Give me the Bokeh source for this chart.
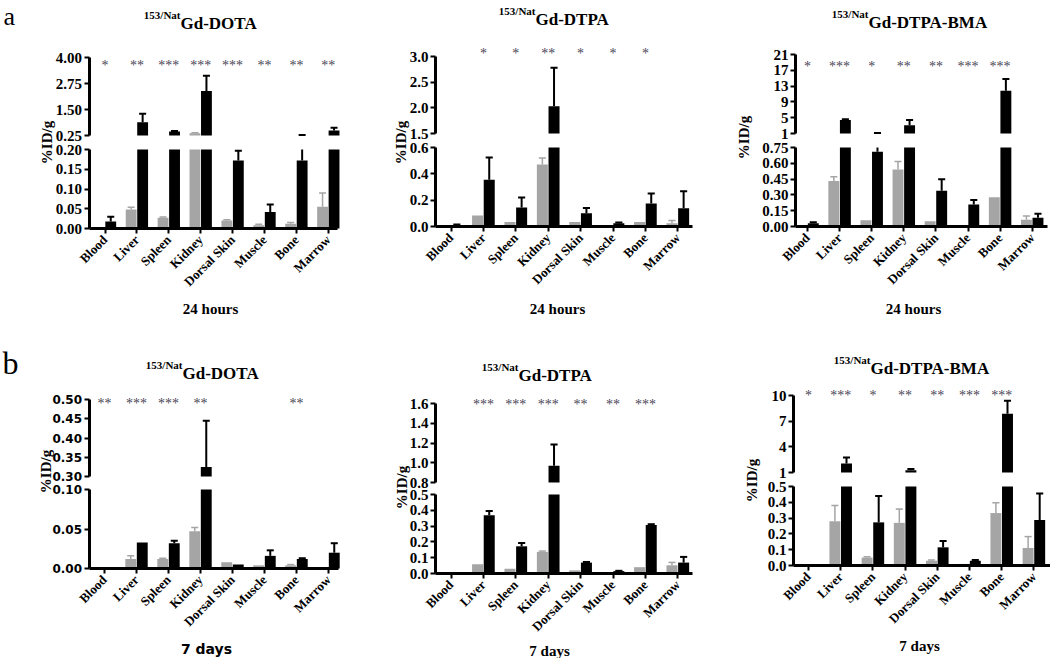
import numpy as np
from math import pi
from bokeh.plotting import figure
from bokeh.models import Range1d, LinearAxis, FixedTicker, NumeralTickFormatter
from bokeh.layouts import row, column
from bokeh.core.properties import value
from bokeh.embed import file_html
from bokeh.resources import INLINE

CATS = ["Blood", "Liver", "Spleen", "Kidney", "Dorsal Skin", "Muscle", "Bone", "Marrow"]

# ---------------- a: 24 hours ----------------
# 153/NatGd-DOTA, 24 h
dota24_gray = [0.003, 0.048, 0.027, 0.36, 0.020, 0.008, 0.012, 0.055]
dota24_gray_err = [0.0, 0.006, 0.002, 0.02, 0.002, 0.003, 0.003, 0.035]
dota24_black = [0.018, 0.89, 0.44, 2.39, 0.172, 0.042, 0.172, 0.49]
dota24_black_err = [0.012, 0.41, 0.03, 0.73, 0.025, 0.019, 0.10, 0.13]
dota24_stars = ["*", "**", "***", "***", "***", "**", "**", "**"]
dota24_lo_ticks = [0.00, 0.05, 0.10, 0.15, 0.20]
dota24_up_ticks = [0.25, 1.50, 2.75, 4.00]

# 153/NatGd-DTPA, 24 h
dtpa24_gray = [0.0, 0.083, 0.035, 0.47, 0.035, 0.010, 0.035, 0.025]
dtpa24_gray_err = [0.0, 0.0, 0.0, 0.05, 0.0, 0.0, 0.0, 0.02]
dtpa24_black = [0.012, 0.355, 0.145, 2.03, 0.10, 0.025, 0.175, 0.138]
dtpa24_black_err = [0.003, 0.17, 0.075, 0.75, 0.04, 0.005, 0.075, 0.13]
dtpa24_stars = ["", "*", "*", "**", "*", "*", "*", ""]
dtpa24_lo_ticks = [0.0, 0.2, 0.4, 0.6]
dtpa24_up_ticks = [1.5, 2.0, 2.5, 3.0]

# 153/NatGd-DTPA-BMA, 24 h
bma24_gray = [0.0, 0.432, 0.06, 0.54, 0.05, 0.01, 0.278, 0.065]
bma24_gray_err = [0.0, 0.04, 0.0, 0.078, 0.0, 0.0, 0.0, 0.035]
bma24_black = [0.03, 4.4, 0.71, 3.1, 0.34, 0.208, 11.8, 0.082]
bma24_black_err = [0.01, 0.2, 0.4, 1.3, 0.108, 0.044, 3.0, 0.038]
bma24_stars = ["*", "***", "*", "**", "**", "***", "***", ""]
bma24_lo_ticks = [0.00, 0.15, 0.30, 0.45, 0.60, 0.75]
bma24_up_ticks = [1, 5, 9, 13, 17, 21]

# ---------------- b: 7 days ----------------
dota7_gray = [0.0, 0.012, 0.012, 0.047, 0.008, 0.004, 0.004, 0.0]
dota7_gray_err = [0.0, 0.004, 0.001, 0.005, 0.0, 0.0, 0.001, 0.0]
dota7_black = [0.0, 0.033, 0.032, 0.325, 0.005, 0.016, 0.012, 0.020]
dota7_black_err = [0.0, 0.0, 0.003, 0.12, 0.0, 0.007, 0.001, 0.012]
dota7_stars = ["**", "***", "***", "**", "", "", "**", ""]
dota7_lo_ticks = [0.00, 0.05, 0.10]
dota7_up_ticks = [0.30, 0.35, 0.40, 0.45, 0.50]

dtpa7_gray = [0.0, 0.059, 0.03, 0.137, 0.02, 0.0, 0.04, 0.052]
dtpa7_gray_err = [0.0, 0.0, 0.0, 0.005, 0.0, 0.0, 0.0, 0.018]
dtpa7_black = [0.0, 0.368, 0.172, 0.97, 0.069, 0.015, 0.307, 0.069]
dtpa7_black_err = [0.0, 0.027, 0.021, 0.215, 0.004, 0.002, 0.005, 0.036]
dtpa7_stars = ["", "***", "***", "***", "**", "**", "***", ""]
dtpa7_lo_ticks = [0.0, 0.1, 0.2, 0.3, 0.4, 0.5]
dtpa7_up_ticks = [0.8, 1.0, 1.2, 1.4, 1.6]

bma7_gray = [0.0, 0.28, 0.05, 0.27, 0.03, 0.01, 0.332, 0.111]
bma7_gray_err = [0.0, 0.10, 0.005, 0.087, 0.005, 0.0, 0.065, 0.072]
bma7_black = [0.0, 2.05, 0.273, 1.27, 0.115, 0.03, 7.86, 0.288]
bma7_black_err = [0.0, 0.69, 0.167, 0.13, 0.04, 0.005, 1.54, 0.168]
bma7_stars = ["*", "***", "*", "**", "**", "***", "***", ""]
bma7_lo_ticks = [0.0, 0.1, 0.2, 0.3, 0.4, 0.5]
bma7_up_ticks = [1, 4, 7, 10]

SERIF = "Liberation Serif"
SANS = "DejaVu Sans"
GRAY = "#a5a5a5"
BLACK = "#000000"
STAR = "#4a4656"

# panel definitions (data + layout in window pixels)
panels = [
    dict(g=dota24_gray, ge=dota24_gray_err, b=dota24_black, be=dota24_black_err, stars=dota24_stars,
         lo=dota24_lo_ticks, up=dota24_up_ticks, fmt_lo="0.00", fmt_up="0.00",
         name="Gd-DOTA", xlabel="24 hours", letter="a",
         cx=0, cy=0, W=350, H=316, axl=88.5, c0=104.5, sp=31.9, axr=337,
         top=57, bhi=135, blo=149, base=228, star=62, tx=180, tb=23, lx=46, ly=142,
         xlx=210, xlb=308,
         tickfont=SERIF, tickfs="15px", labfont=SERIF),
    dict(g=dtpa24_gray, ge=dtpa24_gray_err, b=dtpa24_black, be=dtpa24_black_err, stars=dtpa24_stars,
         lo=dtpa24_lo_ticks, up=dtpa24_up_ticks, fmt_lo="0.0", fmt_up="0.0",
         name="Gd-DTPA", xlabel="24 hours", letter=None,
         cx=350, cy=0, W=350, H=316, axl=435, c0=450.5, sp=32.4, axr=692,
         top=56, bhi=133, blo=147, base=226, star=50, tx=535, tb=19, lx=400, ly=142,
         xlx=557, xlb=308,
         tickfont=SERIF, tickfs="15px", labfont=SERIF),
    dict(g=bma24_gray, ge=bma24_gray_err, b=bma24_black, be=bma24_black_err, stars=bma24_stars,
         lo=bma24_lo_ticks, up=bma24_up_ticks, fmt_lo="0.00", fmt_up="0",
         name="Gd-DTPA-BMA", xlabel="24 hours", letter=None,
         cx=700, cy=0, W=350, H=316, axl=795, c0=807, sp=32.1, axr=1047,
         top=54, bhi=133, blo=147, base=226, star=63, tx=868, tb=22, lx=743, ly=137,
         xlx=913, xlb=308,
         tickfont=SERIF, tickfs="15px", labfont=SERIF),
    dict(g=dota7_gray, ge=dota7_gray_err, b=dota7_black, be=dota7_black_err, stars=dota7_stars,
         lo=dota7_lo_ticks, up=dota7_up_ticks, fmt_lo="0.00", fmt_up="0.00",
         name="Gd-DOTA", xlabel="7 days", letter="b",
         cx=0, cy=316, W=350, H=342, axl=88.5, c0=104, sp=32, axr=338,
         top=399, bhi=476, blo=489, base=568, star=400, tx=182, tb=373, lx=45, ly=471,
         xlx=206, xlb=648,
         tickfont=SANS, tickfs="12px", labfont=SANS),
    dict(g=dtpa7_gray, ge=dtpa7_gray_err, b=dtpa7_black, be=dtpa7_black_err, stars=dtpa7_stars,
         lo=dtpa7_lo_ticks, up=dtpa7_up_ticks, fmt_lo="0.0", fmt_up="0.0",
         name="Gd-DTPA", xlabel="7 days", letter=None,
         cx=350, cy=316, W=350, H=342, axl=435, c0=450.5, sp=32.4, axr=692,
         top=403, bhi=482, blo=494, base=573, star=401, tx=518, tb=375, lx=401, ly=487,
         xlx=549, xlb=650,
         tickfont=SERIF, tickfs="15px", labfont=SERIF),
    dict(g=bma7_gray, ge=bma7_gray_err, b=bma7_black, be=bma7_black_err, stars=bma7_stars,
         lo=bma7_lo_ticks, up=bma7_up_ticks, fmt_lo="0.0", fmt_up="0",
         name="Gd-DTPA-BMA", xlabel="7 days", letter=None,
         cx=700, cy=316, W=350, H=342, axl=793, c0=808, sp=32.2, axr=1050,
         top=395, bhi=472, blo=486, base=565, star=392, tx=870, tb=368, lx=751, ly=480,
         xlx=919, xlb=645,
         tickfont=SERIF, tickfs="15px", labfont=SERIF),
]


def style_axis(ax, font, fs):
    ax.axis_line_width = 3
    ax.axis_line_color = "black"
    ax.major_tick_line_width = 2
    ax.major_tick_out = 5
    ax.major_tick_in = 0
    ax.minor_tick_line_color = None
    ax.major_label_text_font = font
    ax.major_label_text_font_style = "bold"
    ax.major_label_text_font_size = fs
    ax.major_label_text_color = "black"


def make_panel(P):
    cx, cy, W, H = P["cx"], P["cy"], P["W"], P["H"]
    lo_max = P["lo"][-1]
    up_min, up_max = P["up"][0], P["up"][-1]

    def xv(px):
        return (px - P["c0"]) / P["sp"]

    def lov(py):
        return lo_max * (P["base"] - py) / (P["base"] - P["blo"])

    def upv(py):
        return up_min + (up_max - up_min) * (P["bhi"] - py) / (P["bhi"] - P["top"])

    p = figure(width=W, height=H, output_backend="svg", toolbar_location=None,
               x_range=Range1d(xv(cx), xv(cx + W)), y_range=Range1d(lov(cy + H), lov(cy)),
               y_axis_location=None, x_axis_location=None,
               min_border_left=0, min_border_right=0, min_border_top=0, min_border_bottom=0,
               outline_line_color=None)
    p.extra_y_ranges = {"up": Range1d(upv(cy + H), upv(cy))}
    for g in p.grid:
        g.visible = False

    # x axis (drawn at value 0 of the lower y range)
    xa = LinearAxis(fixed_location=0, ticker=FixedTicker(ticks=list(range(len(CATS)))),
                    bounds=(xv(P["axl"]), xv(P["axr"])))
    xa.major_label_overrides = {i: c for i, c in enumerate(CATS)}
    xa.major_label_orientation = pi / 4
    style_axis(xa, SERIF, "13px")
    xa.major_label_standoff = 4
    p.add_layout(xa, "below")

    # broken y axis
    ya_lo = LinearAxis(fixed_location=xv(P["axl"]), bounds=(0, lo_max),
                       ticker=FixedTicker(ticks=P["lo"]),
                       formatter=NumeralTickFormatter(format=P["fmt_lo"]))
    ya_up = LinearAxis(y_range_name="up", fixed_location=xv(P["axl"]), bounds=(up_min, up_max),
                       ticker=FixedTicker(ticks=P["up"]),
                       formatter=NumeralTickFormatter(format=P["fmt_up"]))
    for ax in (ya_lo, ya_up):
        style_axis(ax, P["tickfont"], P["tickfs"])
        ax.major_label_standoff = 2
        p.add_layout(ax, "left")

    idx = np.arange(len(CATS), dtype=float)
    for vals, errs, off, color, lw in ((P["g"], P["ge"], -0.18, GRAY, 1.5),
                                       (P["b"], P["be"], 0.18, BLACK, 2)):
        v = np.asarray(vals, dtype=float)
        e = v + np.asarray(errs, dtype=float)
        has = np.asarray(errs, dtype=float) > 0
        x = idx + off
        # lower part of the bars
        p.vbar(x=x, width=0.34, top=np.minimum(v, lo_max), bottom=0,
               fill_color=color, line_color=None)
        m = v > up_min
        if m.any():
            p.vbar(x=x[m], width=0.34, top=v[m], bottom=up_min, y_range_name="up",
                   fill_color=color, line_color=None)
        # error bars, lower part
        m = has & (v < lo_max)
        if m.any():
            p.segment(x0=x[m], x1=x[m], y0=v[m], y1=np.minimum(e[m], lo_max),
                      line_color=color, line_width=lw)
        m = has & (e <= lo_max)
        if m.any():
            p.segment(x0=x[m] - 0.11, x1=x[m] + 0.11, y0=e[m], y1=e[m],
                      line_color=color, line_width=lw)
        # error bars, upper part
        m = has & (e > up_min)
        if m.any():
            p.segment(x0=x[m], x1=x[m], y0=np.maximum(v[m], up_min), y1=e[m],
                      y_range_name="up", line_color=color, line_width=lw)
            p.segment(x0=x[m] - 0.11, x1=x[m] + 0.11, y0=e[m], y1=e[m],
                      y_range_name="up", line_color=color, line_width=lw)

    # significance stars
    p.text(x=idx, y=[upv(P["star"] + 3)] * len(CATS), text=P["stars"], y_range_name="up",
           text_align="center", text_baseline="alphabetic",
           text_font=value(SERIF), text_font_size="14px", text_color=STAR)

    # title with superscript
    p.text(x=[xv(P["tx"])], y=[upv(P["tb"] - 9)], text=["153/Nat"], y_range_name="up",
           text_align="right", text_baseline="alphabetic", text_font=value(SERIF),
           text_font_style="bold", text_font_size="11px", text_color="black")
    p.text(x=[xv(P["tx"])], y=[upv(P["tb"])], text=[P["name"]], y_range_name="up",
           text_align="left", text_baseline="alphabetic", text_font=value(SERIF),
           text_font_style="bold", text_font_size="17px", text_color="black")

    # y axis title
    p.text(x=[xv(P["lx"])], y=[upv(P["ly"])], text=["%ID/g"], y_range_name="up", angle=pi / 2,
           text_align="center", text_baseline="middle", text_font=value(SERIF),
           text_font_style="bold", text_font_size="15px", text_color="black")

    # x axis title
    p.text(x=[xv(P["xlx"])], y=[upv(P["xlb"])], text=[P["xlabel"]], y_range_name="up",
           text_align="center", text_baseline="alphabetic", text_font=value(P["labfont"]),
           text_font_style="bold", text_font_size="15px" if P["labfont"] == SERIF else "14px",
           text_color="black")

    if P["letter"] == "a":
        p.text(x=[xv(3)], y=[upv(16)], text=["a"], y_range_name="up",
               text_align="left", text_baseline="alphabetic", text_font=value(SERIF),
               text_font_size="26px", text_color="black")
    elif P["letter"] == "b":
        p.text(x=[xv(2)], y=[upv(362)], text=["b"], y_range_name="up",
               text_align="left", text_baseline="alphabetic", text_font=value(SERIF),
               text_font_size="32px", text_color="black")
    return p


figs = [make_panel(P) for P in panels]
layout = column(row(*figs[:3]), row(*figs[3:]))

with open("out.html", "w") as f:
    f.write(file_html(layout, INLINE))
